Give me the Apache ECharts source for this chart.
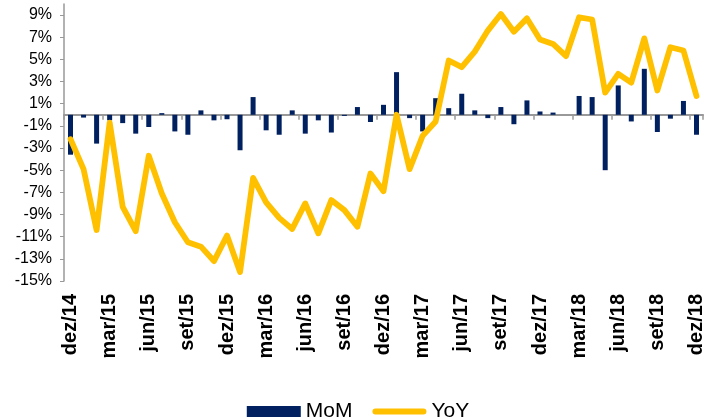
<!DOCTYPE html>
<html>
<head>
<meta charset="utf-8">
<script src="https://cdn.jsdelivr.net/npm/echarts@6/dist/echarts.min.js"></script>
<style>
html,body{margin:0;padding:0;background:#fff;}
#chart{width:716px;height:418px;}
</style>
</head>
<body>
<div id="chart"></div>
<script>
var categories = [
  'dez/14',
  'jan/15','fev/15','mar/15','abr/15','mai/15','jun/15','jul/15','ago/15','set/15','out/15','nov/15','dez/15',
  'jan/16','fev/16','mar/16','abr/16','mai/16','jun/16','jul/16','ago/16','set/16','out/16','nov/16','dez/16',
  'jan/17','fev/17','mar/17','abr/17','mai/17','jun/17','jul/17','ago/17','set/17','out/17','nov/17','dez/17',
  'jan/18','fev/18','mar/18','abr/18','mai/18','jun/18','jul/18','ago/18','set/18','out/18','nov/18','dez/18'
];
var momValues = [
  -3.6,
  -0.25, -2.6, -0.5, -0.75, -1.7, -1.1, 0.15, -1.5, -1.8, 0.4, -0.5, -0.4,
  -3.2, 1.6, -1.4, -1.8, 0.4, -1.7, -0.5, -1.6, -0.1, 0.7, -0.65, 0.9,
  3.85, -0.3, -1.5, 1.5, 0.6, 1.9, 0.4, -0.3, 0.7, -0.85, 1.3, 0.3,
  0.2, 0.0, 1.7, 1.6, -5.0, 2.65, -0.6, 4.15, -1.55, -0.35, 1.25, -1.8
];
var yoyValues = [
  -2.2,
  -4.9, -10.4, -0.7, -8.3, -10.5, -3.7, -7.1, -9.7, -11.5, -11.9, -13.2, -10.9,
  -14.2, -5.7, -7.9, -9.3, -10.3, -8.0, -10.7, -7.7, -8.6, -10.1, -5.3, -6.9,
  0.0, -4.9, -1.9, -0.6, 4.9, 4.3, 5.7, 7.6, 9.1, 7.5, 8.7, 6.8,
  6.4, 5.3, 8.8, 8.6, 2.0, 3.7, 2.9, 6.9, 2.2, 6.1, 5.8, 1.7
];
var yTicks = [-15, -13, -11, -9, -7, -5, -3, -1, 1, 3, 5, 7, 9];

var chart = echarts.init(document.getElementById('chart'), null, {renderer: 'canvas'});
var font = '"Liberation Sans", Arial, sans-serif';
chart.setOption({
  animation: false,
  backgroundColor: '#ffffff',
  textStyle: {fontFamily: font},
  grid: {left: 64, right: 13, top: 4, bottom: 137, outerBoundsMode: 'none', containLabel: false},
  legend: {
    data: [
      {name: 'MoM', icon: 'rect'},
      {name: 'YoY', icon: 'path://M3,0L51,0A3,3,0,0,1,51,6L3,6A3,3,0,0,1,3,0Z', itemStyle: {color: '#FFC000', borderWidth: 0}}
    ],
    left: 'center',
    top: 396,
    itemWidth: 54,
    itemHeight: 11,
    itemGap: 20,
    textStyle: {fontSize: 21, color: '#000', fontFamily: font}
  },
  xAxis: [
    {
      type: 'category',
      data: categories,
      boundaryGap: true,
      axisLine: {onZero: true, lineStyle: {color: '#999999', width: 2}},
      axisTick: {show: true, interval: 2, length: 5, lineStyle: {color: '#999999', width: 1.5}},
      axisLabel: {show: false},
      splitLine: {show: false}
    },
    {
      type: 'category',
      data: categories,
      position: 'bottom',
      boundaryGap: true,
      axisLine: {show: false, onZero: false},
      axisTick: {show: false},
      axisLabel: {
        show: true, interval: 2, rotate: 90, margin: 13,
        fontSize: 20, fontWeight: 'bold', color: '#000', fontFamily: font
      },
      splitLine: {show: false}
    }
  ],
  yAxis: {
    type: 'value',
    min: -15,
    max: 10,
    axisLine: {show: true, lineStyle: {color: '#999999', width: 1.5}},
    axisTick: {show: true, length: 4, customValues: yTicks, lineStyle: {color: '#999999'}},
    axisLabel: {
      customValues: yTicks,
      formatter: '{value}%',
      fontSize: 16, color: '#000', margin: 12, fontFamily: font
    },
    splitLine: {show: false}
  },
  series: [
    {
      name: 'MoM',
      type: 'bar',
      xAxisIndex: 0,
      data: momValues,
      barWidth: 5,
      itemStyle: {color: '#002060'}
    },
    {
      name: 'YoY',
      type: 'line',
      xAxisIndex: 0,
      data: yoyValues,
      symbol: 'none',
      lineStyle: {color: '#FFC000', width: 5.8, join: 'round', cap: 'round'},
      itemStyle: {color: '#FFC000'}
    }
  ]
});
</script>
</body>
</html>
